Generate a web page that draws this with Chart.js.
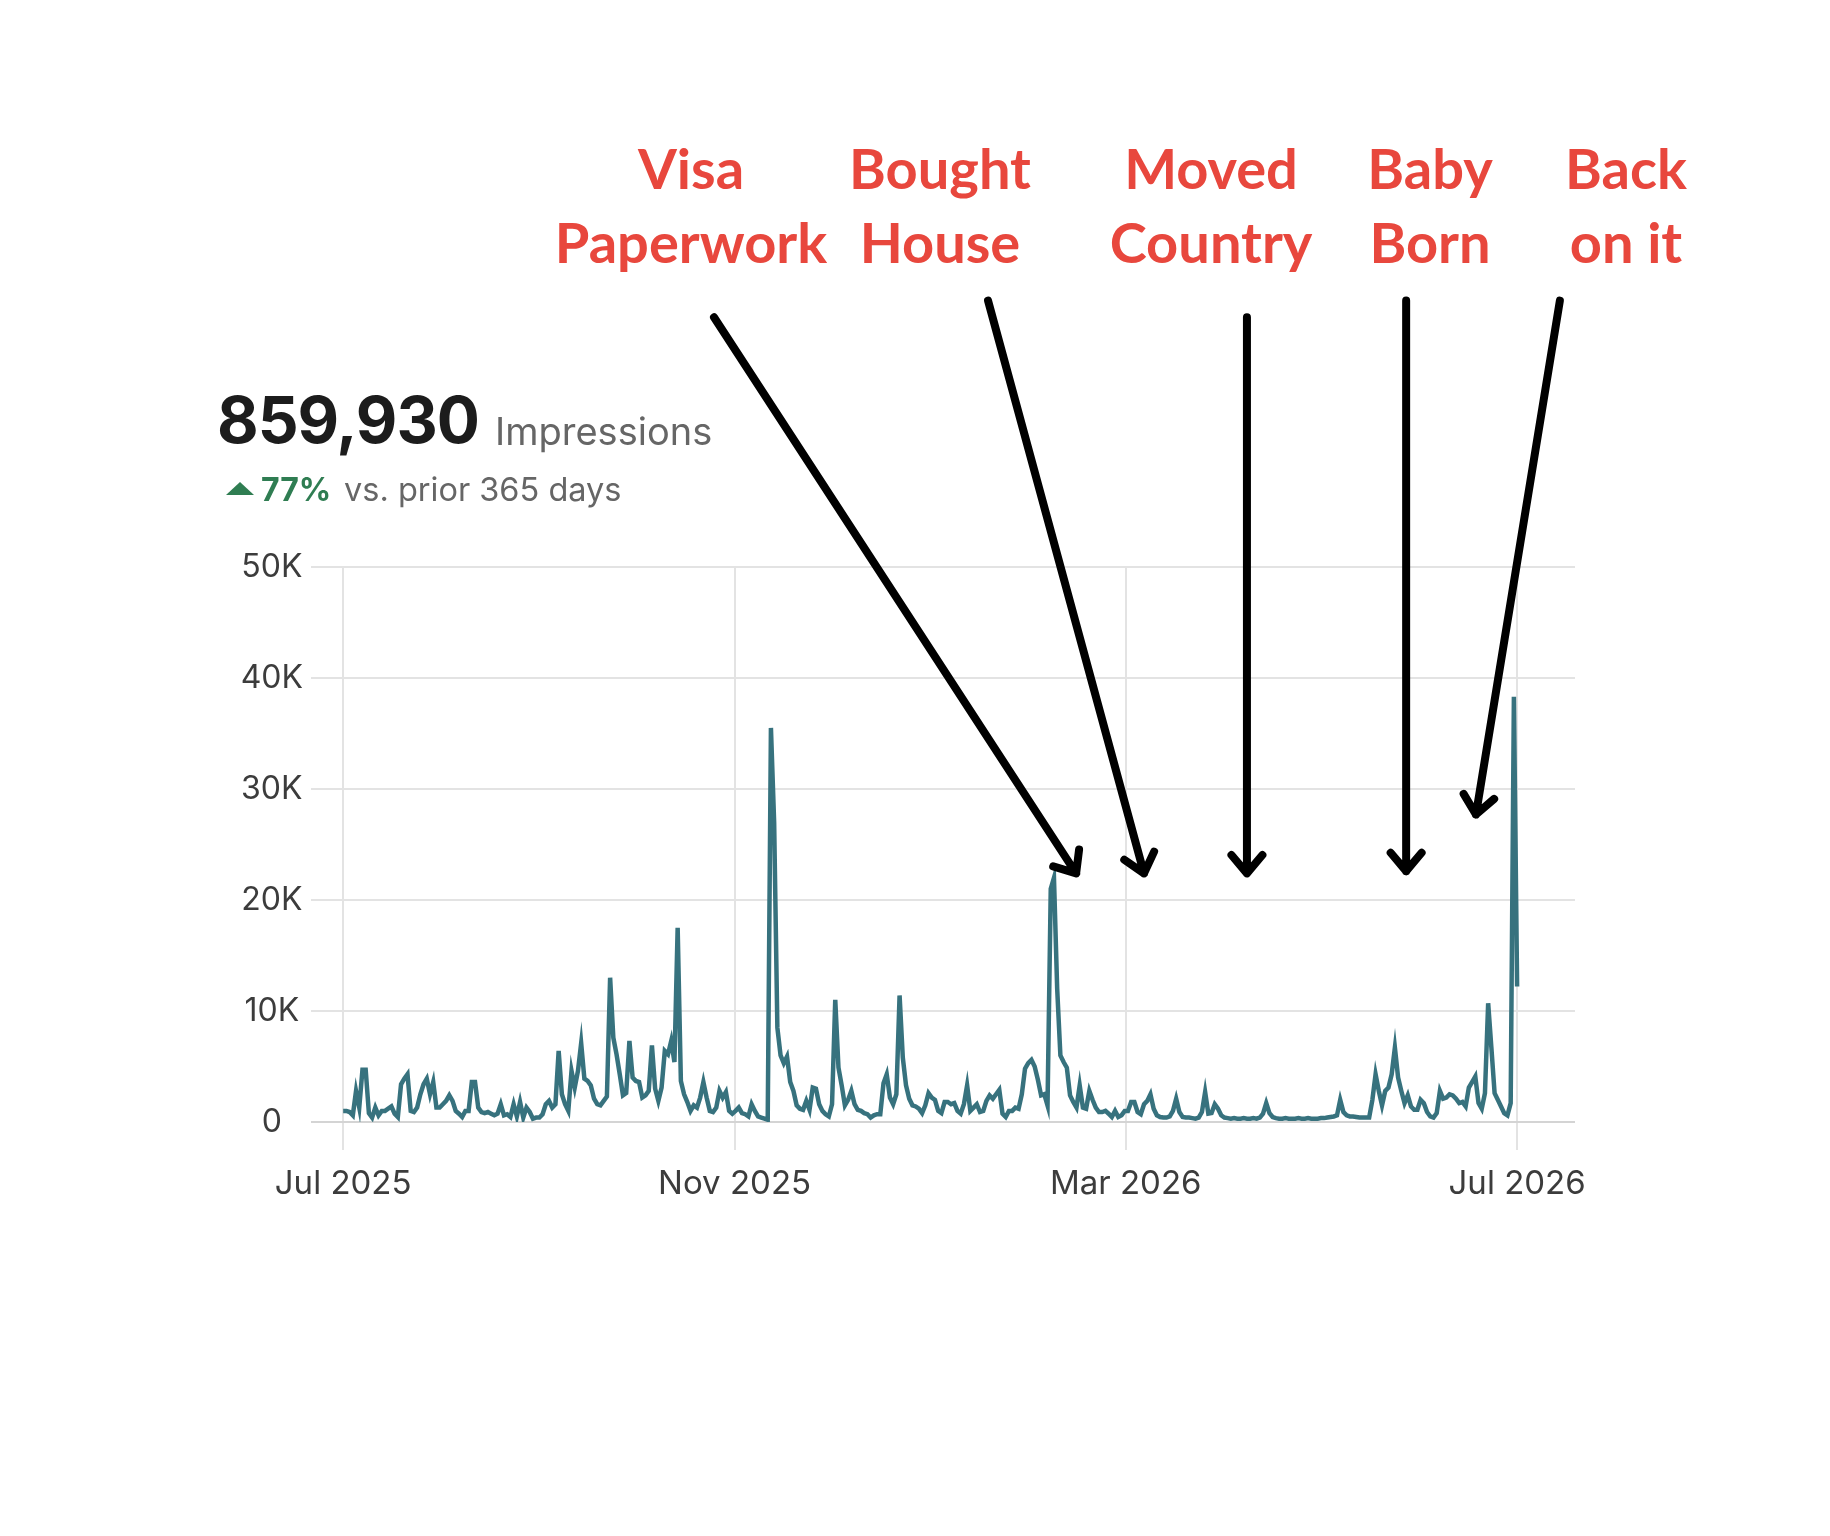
<!DOCTYPE html>
<html lang="en">

<head>
    <meta charset="UTF-8">
    <meta name="viewport" content="width=device-width, initial-scale=1.0">
    <title>Impressions</title>
    <script src="https://cdn.jsdelivr.net/npm/chart.js"></script>
    <style>
        body {
            margin: 0;
            background: #ffffff;
        }

        #wrap {
            position: relative;
            width: 1830px;
            height: 1536px;
            overflow: hidden;
        }

        #chart {
            position: absolute;
            left: 0;
            top: 0;
        }

        .txt {
            position: absolute;
            white-space: nowrap;
            font-family: Inter, "Noto Sans", sans-serif;
        }

        #total { left: 217px; top: 388px; font-size: 64px; line-height: 64px; font-weight: 700; color: #1c1c1c; letter-spacing: -1px; }
        #unit { left: 495px; top: 412px; font-size: 38px; line-height: 38px; color: #666666; }
        #tri { position: absolute; left: 226px; top: 482px; width: 0; height: 0;
               border-left: 14px solid transparent; border-right: 14px solid transparent; border-bottom: 13px solid #2f7d52; }
        #pct { left: 261px; top: 474px; font-size: 32px; line-height: 32px; font-weight: 700; color: #2f7d52; }
        #prior { left: 344px; top: 474px; font-size: 32.5px; line-height: 32px; color: #666666; }

        .note {
            position: absolute;
            top: 131px;
            transform: translateX(-50%);
            font-family: Lato, "Open Sans", sans-serif;
            font-weight: 700;
            font-size: 56px;
            line-height: 74px;
            color: #e8473d;
            text-align: center;
            white-space: nowrap;
        }
    </style>
</head>

<body>
    <div id="wrap">
        <canvas id="chart" width="1830" height="1536"></canvas>

        <div class="txt" id="total">859,930</div>
        <div class="txt" id="unit">Impressions</div>
        <div id="tri"></div>
        <div class="txt" id="pct">77%</div>
        <div class="txt" id="prior">vs. prior 365 days</div>

        <div class="note" style="left:691px">Visa<br>Paperwork</div>
        <div class="note" style="left:940px">Bought<br>House</div>
        <div class="note" style="left:1211px">Moved<br>Country</div>
        <div class="note" style="left:1430px">Baby<br>Born</div>
        <div class="note" style="left:1626px">Back<br>on it</div>
    </div>

    <script>
        // daily impressions, 1 Jul 2025 (day 0) .. 1 Jul 2026 (day 365)
        const impressions = [
            1000, 1000, 900, 600, 2800, 1300, 4700, 4700, 800, 400,
            1300, 600, 1000, 1000, 1200, 1400, 750, 450, 3400, 3900,
            4300, 1000, 900, 1300, 2500, 3400, 3900, 2500, 3600, 1300,
            1300, 1600, 1900, 2400, 1900, 1000, 750, 450, 1000, 1000,
            3600, 3600, 1300, 900, 800, 900, 750, 600, 750, 1600,
            600, 700, 450, 1600, 500, 1800, 400, 1300, 900, 300,
            400, 400, 700, 1600, 1900, 1300, 1600, 6400, 2500, 1600,
            1000, 4600, 3100, 4600, 7100, 3900, 3700, 3300, 2100, 1600,
            1500, 1900, 2300, 13000, 7600, 6100, 4300, 2400, 2600, 7300,
            4000, 3700, 3600, 2200, 2400, 2800, 6900, 3000, 1900, 3100,
            6400, 6100, 7300, 5400, 17500, 3700, 2500, 1800, 1000, 1500,
            1300, 2200, 3600, 2200, 1000, 900, 1300, 2800, 2200, 2700,
            1000, 750, 1000, 1300, 800, 700, 500, 1600, 1000, 500,
            400, 300, 200, 35500, 27000, 8500, 6000, 5300, 5900, 3600,
            2800, 1500, 1200, 1100, 1900, 1100, 3100, 3000, 1600, 1000,
            700, 500, 1600, 11000, 4900, 3300, 1500, 2000, 2800, 1600,
            1100, 1000, 800, 700, 400, 600, 700, 700, 3500, 4300,
            2200, 1600, 2500, 11400, 5800, 3300, 2100, 1500, 1400, 1200,
            800, 1500, 2600, 2200, 2000, 1000, 800, 1800, 1800, 1600,
            1700, 1000, 750, 1600, 3300, 1000, 1300, 1600, 900, 1000,
            1900, 2400, 2100, 2500, 2900, 750, 450, 1000, 1000, 1300,
            1200, 2500, 4800, 5300, 5600, 5000, 3800, 2400, 2500, 1500,
            21000, 22000, 12000, 6000, 5400, 4900, 2400, 1800, 1300, 3300,
            1300, 1200, 2800, 2000, 1300, 900, 900, 1000, 750, 450,
            1000, 450, 600, 1000, 1000, 1800, 1800, 900, 700, 1600,
            1900, 2500, 1200, 600, 450, 400, 400, 500, 1000, 2100,
            900, 450, 400, 400, 350, 300, 400, 900, 2700, 750,
            800, 1600, 1200, 600, 400, 350, 300, 350, 300, 300,
            350, 300, 300, 350, 300, 400, 750, 1700, 800, 450,
            350, 300, 300, 350, 300, 300, 300, 350, 300, 300,
            350, 300, 300, 300, 350, 350, 400, 450, 500, 600,
            2000, 900, 600, 500, 500, 450, 400, 400, 400, 400,
            2000, 4300, 2800, 1500, 2800, 3100, 4300, 6700, 4000, 2800,
            1700, 2400, 1400, 1100, 1100, 2000, 1700, 900, 500, 400,
            800, 2800, 2100, 2200, 2500, 2400, 2100, 1700, 1800, 1400,
            3100, 3600, 4100, 1700, 1200, 2600, 10700, 6700, 2600, 2000,
            1400, 800, 600, 1700, 38300, 12200
        ];

        // the four date ticks sit evenly spaced along the year
        const xTickDays = [0, 121.7, 243.3, 365];
        const xTickLabels = ['Jul 2025', 'Nov 2025', 'Mar 2026', 'Jul 2026'];
        const yTickValues = [0, 10000, 20000, 30000, 40000, 50000];
        const yTickLabels = ['0', '10K', '20K', '30K', '40K', '50K'];

        // arrows: tail and tip in chart units (day, impressions)
        const arrowTailDays = [115.3, 200.5, 281, 330.5, 378.3];
        const arrowTailValues = [72500, 74000, 72500, 74000, 74000];
        const arrowTipDays = [227.9, 249, 281, 330.5, 352.2];
        const arrowTipValues = [22400, 22400, 22400, 22600, 27700];

        const arrows = {
            id: 'arrows',
            afterDraw(chart) {
                const { ctx, scales: { x, y } } = chart;
                ctx.save();
                ctx.strokeStyle = '#000000';
                ctx.lineWidth = 8;
                ctx.lineCap = 'round';
                ctx.lineJoin = 'round';
                arrowTipDays.forEach((d, i) => {
                    const x0 = x.getPixelForValue(arrowTailDays[i]);
                    const y0 = y.getPixelForValue(arrowTailValues[i]);
                    const x1 = x.getPixelForValue(d);
                    const y1 = y.getPixelForValue(arrowTipValues[i]);
                    const a = Math.atan2(y1 - y0, x1 - x0);
                    const head = 24;
                    const spread = 0.7;
                    ctx.beginPath();
                    ctx.moveTo(x0, y0);
                    ctx.lineTo(x1, y1);
                    ctx.moveTo(x1 - head * Math.cos(a - spread), y1 - head * Math.sin(a - spread));
                    ctx.lineTo(x1, y1);
                    ctx.lineTo(x1 - head * Math.cos(a + spread), y1 - head * Math.sin(a + spread));
                    ctx.stroke();
                });
                ctx.restore();
            }
        };

        Chart.defaults.font.family = 'Inter';

        const ctx = document.getElementById('chart').getContext('2d');
        const mychart = new Chart(ctx, {
            type: 'line',
            data: {
                datasets: [
                    {
                        data: impressions.map((v, i) => ({ x: i, y: v })),
                        borderColor: '#37727e',
                        borderWidth: 4.5,
                        pointRadius: 0,
                        tension: 0,
                        fill: false
                    }
                ]
            },
            options: {
                responsive: false,
                animation: false,
                devicePixelRatio: 1,
                layout: {
                    padding: { left: 241, top: 567, right: 255, bottom: 334 }
                },
                plugins: {
                    legend: { display: false },
                    tooltip: { enabled: false }
                },
                scales: {
                    x: {
                        type: 'linear',
                        min: -10,
                        max: 383,
                        afterBuildTicks: s => { s.ticks = xTickDays.map(v => ({ value: v })); },
                        afterFit: s => { s.height = 80; },
                        ticks: {
                            callback: v => xTickLabels[xTickDays.indexOf(v)],
                            font: { size: 33 },
                            color: '#3c3c3c',
                            padding: 14,
                            maxRotation: 0,
                            autoSkip: false
                        },
                        grid: { color: '#e3e3e3', lineWidth: 2, tickLength: 28 },
                        border: { display: false }
                    },
                    y: {
                        min: 0,
                        max: 50000,
                        afterBuildTicks: s => { s.ticks = yTickValues.map(v => ({ value: v })); },
                        afterFit: s => { s.width = 70; },
                        ticks: {
                            callback: v => yTickLabels[yTickValues.indexOf(v)],
                            font: { size: 32 },
                            color: '#3c3c3c',
                            padding: 8,
                            crossAlign: 'center'
                        },
                        grid: {
                            color: c => c.tick && c.tick.value === 0 ? '#d4d4d4' : '#e3e3e3',
                            lineWidth: 2,
                            drawTicks: false
                        },
                        border: { display: false }
                    }
                }
            },
            plugins: [arrows]
        });
    </script>
</body>

</html>
